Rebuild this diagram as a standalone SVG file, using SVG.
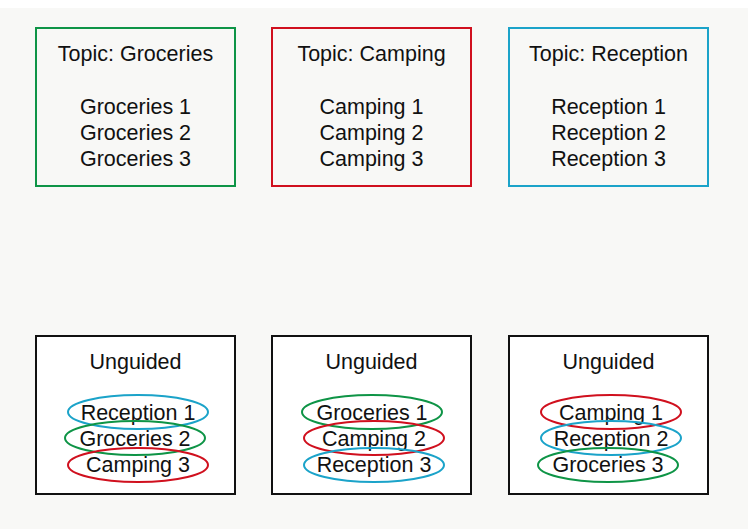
<svg xmlns="http://www.w3.org/2000/svg" width="748" height="529" viewBox="0 0 748 529">
<style>
text{font-family:"Liberation Sans",Arial,sans-serif;font-size:21.5px;fill:#111;text-anchor:middle}
.topic{fill:none;stroke-width:2}
.ung{fill:#fff;stroke:#111;stroke-width:2}
.el{fill:none;stroke-width:2}
.g{stroke:#0e9446}
.r{stroke:#d0101e}
.b{stroke:#1ba3c9}
</style>
<rect x="0" y="0" width="748" height="529" fill="#fff"/>
<rect x="0" y="8" width="748" height="521" fill="#f8f8f6"/>
<g id="topic-groceries">
<rect class="topic g" x="36" y="28" width="199" height="158"/>
<text x="135.5" y="61">Topic: Groceries</text>
<text x="135.5" y="114">Groceries 1</text>
<text x="135.5" y="140">Groceries 2</text>
<text x="135.5" y="166">Groceries 3</text>
</g>
<g id="topic-camping">
<rect class="topic r" x="272" y="28" width="199" height="158"/>
<text x="371.5" y="61">Topic: Camping</text>
<text x="371.5" y="114">Camping 1</text>
<text x="371.5" y="140">Camping 2</text>
<text x="371.5" y="166">Camping 3</text>
</g>
<g id="topic-reception">
<rect class="topic b" x="509" y="28" width="199" height="158"/>
<text x="608.5" y="61">Topic: Reception</text>
<text x="608.5" y="114">Reception 1</text>
<text x="608.5" y="140">Reception 2</text>
<text x="608.5" y="166">Reception 3</text>
</g>
<g id="unguided-1">
<rect class="ung" x="36" y="336" width="199" height="158"/>
<text x="135.5" y="369">Unguided</text>
<ellipse class="el b" cx="138" cy="412" rx="70" ry="17"/>
<text x="138" y="420">Reception 1</text>
<ellipse class="el g" cx="135" cy="438" rx="70" ry="17"/>
<text x="135" y="446">Groceries 2</text>
<ellipse class="el r" cx="138" cy="465" rx="70" ry="17"/>
<text x="138" y="472">Camping 3</text>
</g>
<g id="unguided-2">
<rect class="ung" x="272" y="336" width="199" height="158"/>
<text x="371.5" y="369">Unguided</text>
<ellipse class="el g" cx="372" cy="412" rx="70" ry="17"/>
<text x="372" y="420">Groceries 1</text>
<ellipse class="el r" cx="374" cy="438" rx="70" ry="17"/>
<text x="374" y="446">Camping 2</text>
<ellipse class="el b" cx="374" cy="465" rx="70" ry="17"/>
<text x="374" y="472">Reception 3</text>
</g>
<g id="unguided-3">
<rect class="ung" x="509" y="336" width="199" height="158"/>
<text x="608.5" y="369">Unguided</text>
<ellipse class="el r" cx="611" cy="412" rx="70" ry="17"/>
<text x="611" y="420">Camping 1</text>
<ellipse class="el b" cx="611" cy="438" rx="70" ry="17"/>
<text x="611" y="446">Reception 2</text>
<ellipse class="el g" cx="608" cy="465" rx="70" ry="17"/>
<text x="608" y="472">Groceries 3</text>
</g>
<g id="connectors"/>
</svg>
